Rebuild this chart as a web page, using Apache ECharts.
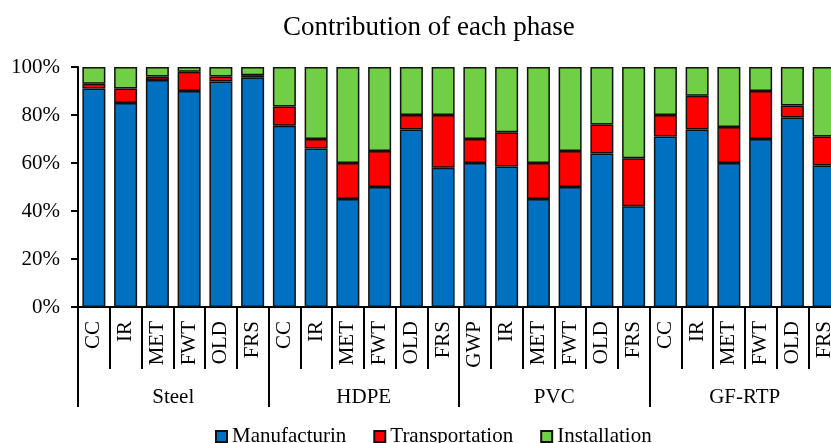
<!DOCTYPE html>
<html>
<head>
<meta charset="utf-8">
<script src="https://cdn.jsdelivr.net/npm/echarts@6/dist/echarts.min.js"></script>
<style>
    html, body { margin: 0; padding: 0; background: #fff; }
    #main { width: 831px; height: 443px; }
</style>
</head>
<body>
<div id="main"></div>
<script>
    // 每根柱子的阶段 (categories)
    var phases = ['CC', 'IR', 'MET', 'FWT', 'OLD', 'FRS',
        'CC', 'IR', 'MET', 'FWT', 'OLD', 'FRS',
        'GWP', 'IR', 'MET', 'FWT', 'OLD', 'FRS',
        'CC', 'IR', 'MET', 'FWT', 'OLD', 'FRS'];
    var materials = ['Steel', 'HDPE', 'PVC', 'GF-RTP'];
    var yTicks = [0, 20, 40, 60, 80, 100];

    // percentages
    var manufacturing = [91, 85, 94.6, 90, 94, 95.6,
        75.5, 66, 45, 50, 74, 58,
        60, 58.5, 45, 50, 64, 42,
        71, 74, 60, 70, 79, 59];
    var transportation = [2, 6, 1.4, 8, 2, 1,
        8, 4, 15, 15, 6, 22,
        10, 14.3, 15, 15, 12, 20,
        9, 14, 15, 20, 5, 12];
    var installation = [7, 9, 4, 2, 4, 3.4,
        16.5, 30, 40, 35, 20, 20,
        30, 27.2, 40, 35, 24, 38,
        20, 12, 25, 10, 16, 29];

    var serif = 'Liberation Serif';
    var chart = echarts.init(document.getElementById('main'));

    var mkSeries = function (name, data, color) {
        return {
            name: name,
            type: 'bar',
            stack: 'all',
            barWidth: 23,
            data: data,
            itemStyle: {color: color, borderColor: '#111', borderWidth: 1.5}
        };
    };

    chart.setOption({
        animation: false,
        title: {
            text: 'Contribution of each phase',
            left: 278,
            top: 9,
            textStyle: {fontFamily: serif, fontSize: 27, fontWeight: 'normal', color: '#000'}
        },
        legend: {
            data: ['Manufacturin', 'Transportation', 'Installation'],
            left: 210,
            top: 421,
            itemWidth: 11,
            itemHeight: 11,
            itemGap: 27,
            icon: 'rect',
            textStyle: {fontFamily: serif, fontSize: 21, color: '#000'}
        },
        // the picture is cut on the right, so the grid runs past the edge
        grid: {left: 78, top: 67, width: 762, height: 240, outerBoundsMode: 'none'},
        xAxis: [{
            type: 'category',
            data: phases,
            axisLine: {lineStyle: {color: '#000', width: 2}},
            axisTick: {show: true, interval: 0, length: 62, lineStyle: {color: '#000', width: 2}},
            axisLabel: {
                interval: 0, rotate: 90, margin: 14,
                fontFamily: serif, fontSize: 21, color: '#000'
            }
        }, {
            type: 'category',
            data: materials,
            position: 'bottom',
            axisLine: {show: false},
            axisTick: {show: true, interval: 0, length: 100, lineStyle: {color: '#000', width: 2}},
            axisLabel: {
                interval: 0, margin: 80,
                fontFamily: serif, fontSize: 21, color: '#000'
            }
        }],
        yAxis: {
            type: 'value',
            min: yTicks[0],
            max: yTicks[yTicks.length - 1],
            interval: 20,
            splitLine: {show: false},
            axisLine: {show: true, lineStyle: {color: '#000', width: 2}},
            axisTick: {show: true, length: 7, lineStyle: {color: '#000', width: 2}},
            axisLabel: {
                formatter: '{value}%', margin: 18,
                fontFamily: serif, fontSize: 21, color: '#000'
            }
        },
        series: [
            mkSeries('Manufacturin', manufacturing, '#0070C0'),
            mkSeries('Transportation', transportation, '#FF0000'),
            mkSeries('Installation', installation, '#70CE47')
        ]
    });
</script>
</body>
</html>
